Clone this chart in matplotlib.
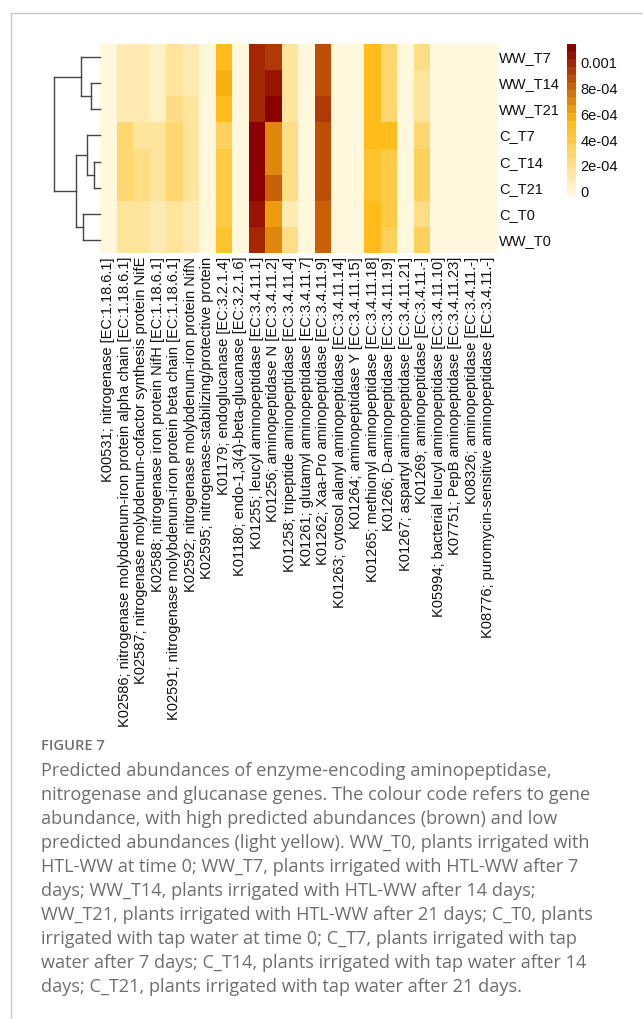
import matplotlib

matplotlib.use('Agg')
import matplotlib.pyplot as plt
from matplotlib.colors import LinearSegmentedColormap, Normalize
from matplotlib.lines import Line2D
import numpy as np

# --- DATA ---
samples = ['WW_T7', 'WW_T14', 'WW_T21', 'C_T7', 'C_T14', 'C_T21', 'C_T0', 'WW_T0']

genes = [
    'K00531; nitrogenase [EC:1.18.6.1]',
    'K02586; nitrogenase molybdenum-iron protein alpha chain [EC:1.18.6.1]',
    'K02587; nitrogenase molybdenum-cofactor synthesis protein NifE',
    'K02588; nitrogenase iron protein NifH [EC:1.18.6.1]',
    'K02591; nitrogenase molybdenum-iron protein beta chain [EC:1.18.6.1]',
    'K02592; nitrogenase molybdenum-iron protein NifN',
    'K02595; nitrogenase-stabilizing/protective protein',
    'K01179; endoglucanase [EC:3.2.1.4]',
    'K01180; endo-1,3(4)-beta-glucanase [EC:3.2.1.6]',
    'K01255; leucyl aminopeptidase [EC:3.4.11.1]',
    'K01256; aminopeptidase N [EC:3.4.11.2]',
    'K01258; tripeptide aminopeptidase [EC:3.4.11.4]',
    'K01261; glutamyl aminopeptidase [EC:3.4.11.7]',
    'K01262; Xaa-Pro aminopeptidase [EC:3.4.11.9]',
    'K01263; cytosol alanyl aminopeptidase [EC:3.4.11.14]',
    'K01264; aminopeptidase Y [EC:3.4.11.15]',
    'K01265; methionyl aminopeptidase [EC:3.4.11.18]',
    'K01266; D-aminopeptidase [EC:3.4.11.19]',
    'K01267; aspartyl aminopeptidase [EC:3.4.11.21]',
    'K01269; aminopeptidase [EC:3.4.11.-]',
    'K05994; bacterial leucyl aminopeptidase [EC:3.4.11.10]',
    'K07751; PepB aminopeptidase [EC:3.4.11.23]',
    'K08326; aminopeptidase [EC:3.4.11.-]',
    'K08776; puromycin-sensitive aminopeptidase [EC:3.4.11.-]',
]

# abundances (x 1e-4), one list per sample, same order as genes
ww_t7 = [0.0, 1.2, 1.2, 0.6, 1.3, 0.9, 0.0, 5.0, 0.0, 10.1, 9.6, 1.3, 0.0, 8.5, 0.0, 0.0, 5.0, 3.0, 0.0, 2.2, 0.0, 0.0, 0.0, 0.0]
ww_t14 = [0.0, 1.2, 1.2, 0.6, 1.3, 0.9, 0.0, 5.6, 0.0, 10.1, 10.6, 1.3, 0.0, 8.5, 0.0, 0.0, 5.0, 2.5, 0.0, 1.4, 0.0, 0.0, 0.0, 0.0]
ww_t21 = [0.0, 1.2, 1.2, 0.5, 2.0, 1.3, 0.0, 5.1, 0.0, 10.1, 11.4, 1.3, 0.0, 9.3, 0.0, 0.0, 5.0, 2.5, 0.0, 1.4, 0.0, 0.0, 0.0, 0.0]
c_t7 = [0.0, 2.5, 1.4, 1.3, 2.5, 1.4, 0.0, 3.5, 0.0, 11.4, 7.1, 2.2, 0.0, 8.6, 0.0, 0.0, 5.1, 5.2, 0.0, 2.8, 0.0, 0.0, 0.0, 0.0]
c_t14 = [0.0, 2.5, 1.9, 1.3, 2.5, 1.4, 0.0, 4.2, 0.0, 11.4, 7.1, 2.2, 0.0, 8.6, 0.0, 0.0, 4.8, 4.0, 0.0, 3.2, 0.0, 0.0, 0.0, 0.0]
c_t21 = [0.0, 2.5, 1.9, 1.3, 2.5, 1.4, 0.0, 4.2, 0.0, 11.4, 8.0, 2.2, 0.0, 8.6, 0.0, 0.0, 4.8, 4.0, 0.0, 3.2, 0.0, 0.0, 0.0, 0.0]
c_t0 = [0.0, 1.8, 1.4, 1.2, 1.8, 0.7, 0.0, 4.2, 0.0, 10.6, 6.5, 1.2, 0.0, 8.0, 0.0, 0.0, 5.0, 4.0, 0.0, 2.2, 0.0, 0.0, 0.0, 0.0]
ww_t0 = [0.0, 1.8, 1.4, 1.2, 1.8, 0.7, 0.0, 4.5, 0.0, 10.1, 7.1, 2.0, 0.0, 8.0, 0.0, 0.0, 5.0, 3.3, 0.0, 3.2, 0.0, 0.0, 0.0, 0.0]

# row dendrogram: (child a, child b, height); leaves 0..7, new clusters numbered from 8
merges = [(1, 2, 0.19), (4, 5, 0.11), (3, 9, 0.28), (6, 7, 0.36),
          (0, 8, 0.41), (10, 11, 0.52), (12, 13, 1.0)]

cbar_ticks = [0, 2e-4, 4e-4, 6e-4, 8e-4, 1e-3]
cbar_labels = ['0', '2e-04', '4e-04', '6e-04', '8e-04', '0.001']

caption_title = 'FIGURE 7'
caption_lines = [
    'Predicted abundances of enzyme-encoding aminopeptidase,',
    'nitrogenase and glucanase genes. The colour code refers to gene',
    'abundance, with high predicted abundances (brown) and low',
    'predicted abundances (light yellow). WW_T0, plants irrigated with',
    'HTL-WW at time 0; WW_T7, plants irrigated with HTL-WW after 7',
    'days; WW_T14, plants irrigated with HTL-WW after 14 days;',
    'WW_T21, plants irrigated with HTL-WW after 21 days; C_T0, plants',
    'irrigated with tap water at time 0; C_T7, plants irrigated with tap',
    'water after 7 days; C_T14, plants irrigated with tap water after 14',
    'days; C_T21, plants irrigated with tap water after 21 days.',
]

# --- LAYOUT (pixels) ---
W, H = 643, 1020
HM_L, HM_R, HM_T, HM_B = 100, 496.5, 45, 254
LABEL_FONT = 'Liberation Sans'
LABEL_SIZE = 10.5
CAP_FONT = 'Open Sans'


def px_axes(fig, l, t, r, b):
    return fig.add_axes([l / W, 1 - b / H, (r - l) / W, (b - t) / H])


mat = np.array([ww_t7, ww_t14, ww_t21, c_t7, c_t14, c_t21, c_t0, ww_t0]) * 1e-4

cmap = LinearSegmentedColormap.from_list('abund', ['#FFF8DC', '#FFB90F', '#8B0000'], N=20)
norm = Normalize(vmin=-0.00005, vmax=0.00114)

fig = plt.figure(figsize=(W / 100, H / 100), dpi=100)

# heatmap
ax = px_axes(fig, HM_L, HM_T, HM_R, HM_B)
ax.pcolormesh(mat, cmap=cmap, norm=norm, edgecolors='none')
ax.set_xlim(0, len(genes))
ax.set_ylim(len(samples), 0)
ax.set_xticks([])
ax.set_yticks([])
for s in ax.spines.values():
    s.set_visible(False)

for i, name in enumerate(samples):
    fig.text(499 / W, 1 - (HM_T + (i + 0.5) * (HM_B - HM_T) / len(samples)) / H, name,
             ha='left', va='center', fontsize=LABEL_SIZE, family=LABEL_FONT, color='#111111')

for j, name in enumerate(genes):
    fig.text((HM_L + (j + 0.5) * (HM_R - HM_L) / len(genes)) / W, 1 - 257 / H, name,
             rotation=90, ha='center', va='top', fontsize=LABEL_SIZE, family=LABEL_FONT,
             color='#111111')

# row dendrogram
dax = px_axes(fig, 54, HM_T, 99.5, HM_B)
pos = {i: i + 0.5 for i in range(len(samples))}
hgt = {i: 0.0 for i in range(len(samples))}
for k, (a, b, h) in enumerate(merges):
    node = len(samples) + k
    for c in (a, b):
        dax.plot([hgt[c], h], [pos[c], pos[c]], color='#444444', lw=1, clip_on=False)
    dax.plot([h, h], [pos[a], pos[b]], color='#444444', lw=1, clip_on=False)
    pos[node] = (pos[a] + pos[b]) / 2
    hgt[node] = h
dax.set_xlim(1.0, 0)
dax.set_ylim(len(samples), 0)
dax.axis('off')

# colour legend
cax = px_axes(fig, 567, 45, 576, 198)
grad = np.linspace(norm.vmin, norm.vmax, 400).reshape(-1, 1)
cax.imshow(grad, aspect='auto', cmap=cmap, norm=norm, origin='lower',
           extent=[0, 1, norm.vmin, norm.vmax])
cax.set_xticks([])
cax.yaxis.tick_right()
cax.set_yticks(cbar_ticks)
cax.set_yticklabels(cbar_labels, family=LABEL_FONT, fontsize=LABEL_SIZE, color='#111111')
cax.tick_params(axis='y', length=0, pad=3)
for s in cax.spines.values():
    s.set_visible(False)

# frame lines of the page
fig.add_artist(Line2D([11 / W, 11 / W], [0, 1 - 14 / H], color='#c8c8c8', lw=1))
fig.add_artist(Line2D([11 / W, 1], [1 - 14 / H, 1 - 14 / H], color='#c8c8c8', lw=1))

# caption
fig.text(41 / W, 1 - 746 / H, caption_title, ha='left', va='center', fontsize=10.6,
         family=CAP_FONT, weight='semibold', color='#707070')
for i, line in enumerate(caption_lines):
    fig.text(41 / W, 1 - (771 + 24 * i) / H, line, ha='left', va='center', fontsize=13.1,
             family=CAP_FONT, color='#6e6e6e')

fig.savefig('out.png', dpi=100)
